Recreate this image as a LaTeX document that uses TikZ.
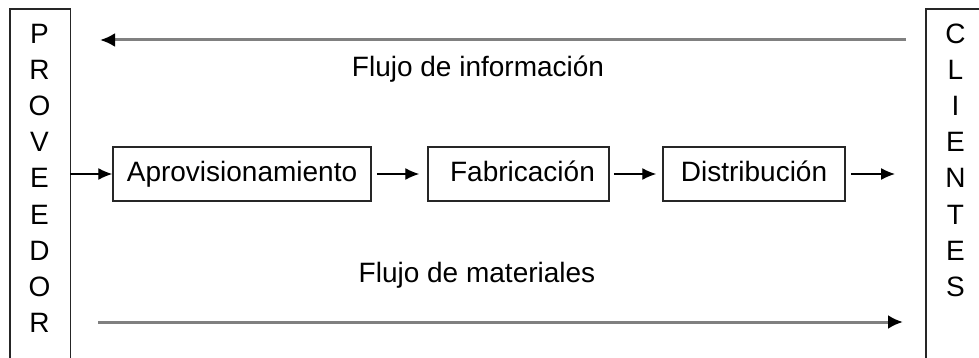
\documentclass[tikz,border=0pt]{standalone}
\usepackage{fontspec}
\setmainfont{Liberation Sans}
\usetikzlibrary{arrows.meta}
\begin{document}
\begin{tikzpicture}[x=1pt,y=-1pt,
  txt/.style={font=\fontsize{28}{34}\selectfont, text=black, inner sep=0pt},
  letter/.style={txt, anchor=base},
  sidebox/.style={draw=none, minimum width=60pt, minimum height=360pt, anchor=north west, inner sep=0pt},
  stepbox/.style={draw=black!85, line width=1.5pt, minimum height=54pt, inner sep=0pt, txt, text height=22pt, text depth=6pt},
  flow/.style={line width=1.3pt, -{Latex[length=14pt,width=12pt]}},
  bigflow/.style={draw=black!50, line width=3pt, -{Latex[length=15pt,width=14pt,color=black]}}
]
\useasboundingbox (0,0) rectangle (979,358);
\fill[white] (0,0) rectangle (979,358);
% side boxes
\node[sidebox] (prov) at (10,9) {};
\node[sidebox] (cli) at (926,9) {};
\draw[black!85, line width=1.5pt] (prov.south west) -- (prov.north west) -- (prov.north east) -- (prov.south east);
\draw[black!85, line width=1.5pt] (cli.south west) -- (cli.north west) -- (cli.north east);
\foreach \c [count=\i from 0] in {P,R,O,V,E,E,D,O,R}
  \node[letter] (pl\i) at (39.5,{44+36*\i}) {\c};
\foreach \c [count=\i from 0] in {C,L,I,E,N,T,E,S}
  \node[letter] (cl\i) at (955.5,{44+36*\i}) {\c};
% process boxes
\node[stepbox, minimum width=258pt] (apro) at (242,174) {Aprovisionamiento};
\node[stepbox, minimum width=181pt] (fab) at (518.5,174) {\hspace{8pt}Fabricación};
\node[stepbox, minimum width=182pt] (dist) at (754,174) {Distribución\hspace{11pt}};
\coordinate (out) at (895,174);
\draw[flow] (prov.east |- apro.west) -- (apro.west);
\draw[flow, shorten <=5pt, shorten >=8pt] (apro.east) -- (fab.west);
\draw[flow, shorten <=4pt, shorten >=6pt] (fab.east) -- (dist.west);
\draw[flow, shorten <=5pt] (dist.east) -- (out);
% information and material flows
\coordinate (infoS) at (906,40);
\coordinate (infoE) at (100,40);
\coordinate (matS) at (98,322);
\coordinate (matE) at (903,322);
\draw[bigflow] (infoS) -- (infoE);
\draw[bigflow] (matS) -- (matE);
\node[txt, anchor=base] (info) at (478,77) {Flujo de información};
\node[txt, anchor=base] (mat) at (477,282) {Flujo de materiales};
\end{tikzpicture}
\end{document}
